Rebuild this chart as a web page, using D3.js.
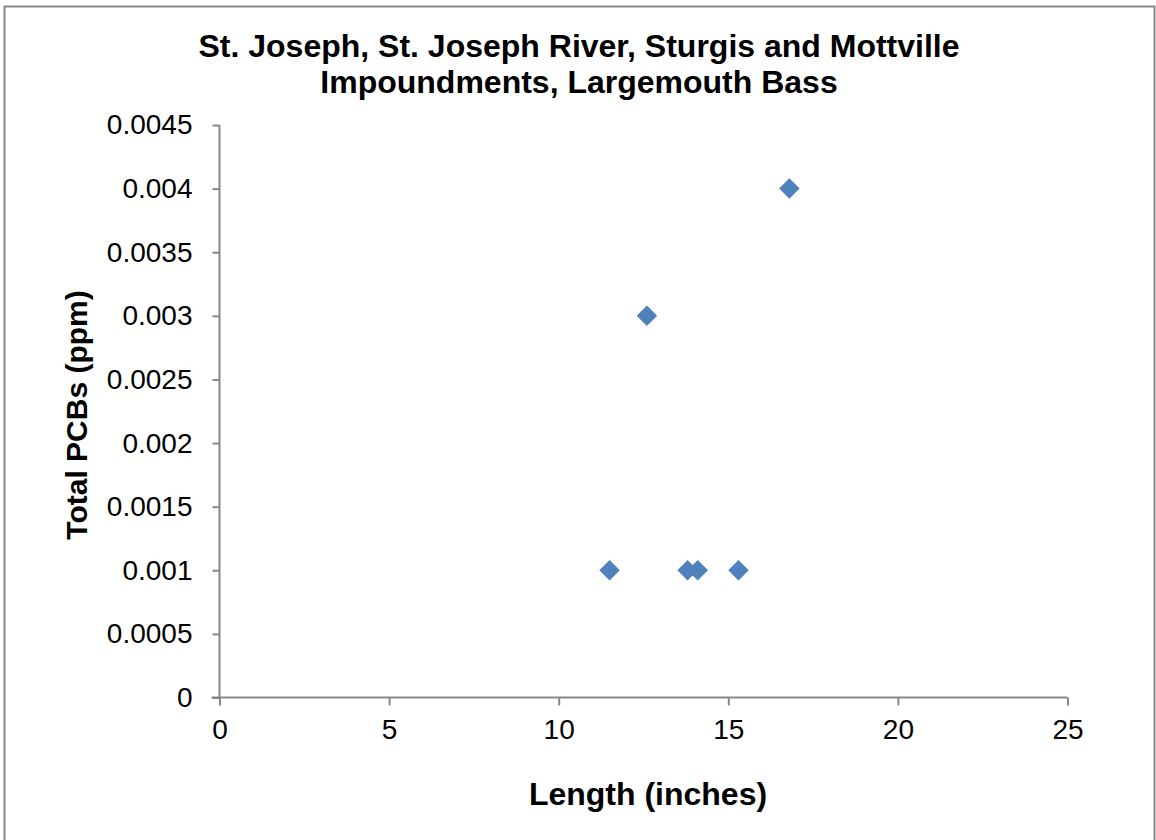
<!DOCTYPE html>
<html>
<head>
<meta charset="utf-8">
<script src="https://cdn.jsdelivr.net/npm/d3@7"></script>
<style>
  body { margin: 0; background: #fff; }
  text { font-family: "Liberation Sans", Arial, sans-serif; }
</style>
</head>
<body>
<svg id="chart" width="1156" height="840"></svg>
<script>
// data
var lengths = [11.5, 12.6, 13.8, 14.1, 15.3, 16.8]
var pcbs = [0.001, 0.003, 0.001, 0.001, 0.001, 0.004]
var xTicks = [0, 5, 10, 15, 20, 25]
var yTicks = [0, 0.0005, 0.001, 0.0015, 0.002, 0.0025, 0.003, 0.0035, 0.004, 0.0045]
var titleLines = ["St. Joseph, St. Joseph River, Sturgis and Mottville", "Impoundments, Largemouth Bass"]

var svg = d3.select("#chart")

// outer border
svg.append("rect")
    .attr("x", 4.5).attr("y", 6.5)
    .attr("width", 1150).attr("height", 840)
    .style("fill", "none")
    .style("stroke", "#888")
    .style("stroke-width", 2)

// plot area edges
var plotLeft = 219.5, plotRight = 1067.5, plotTop = 125, plotBottom = 697.5

var x = d3.scaleLinear().domain([0, 25]).range([plotLeft, plotRight])
var y = d3.scaleLinear().domain([0, 0.0045]).range([plotBottom, plotTop])

// x axis
var xAxis = svg.append("g")
    .attr("transform", "translate(0," + plotBottom + ")")
    .call(d3.axisBottom(x).tickValues(xTicks).tickSize(8).tickPadding(14).tickSizeOuter(0))
xAxis.select(".domain").attr("d", "M" + (plotLeft - 8) + ",0H" + plotRight)

// y axis
var yAxis = svg.append("g")
    .attr("transform", "translate(" + plotLeft + ",0)")
    .call(d3.axisLeft(y).tickValues(yTicks).tickSize(7).tickPadding(20).tickSizeOuter(0)
        .tickFormat(function(d){ return d === 0 ? "0" : String(+d.toFixed(4)) }))
yAxis.select(".domain").attr("d", "M0," + plotBottom + "V" + plotTop)

svg.selectAll(".domain, .tick line").style("stroke", "#888").style("stroke-width", 2)
svg.selectAll(".tick text")
    .style("font-size", "28px")
    .style("fill", "#000")
    .style("font-family", "'Liberation Sans', Arial, sans-serif")

// points
var diamond = d3.symbol().type(d3.symbolSquare).size(210)
svg.selectAll(".pt")
    .data(lengths)
    .enter()
    .append("path")
    .attr("class", "pt")
    .attr("d", diamond)
    .attr("transform", function(d, i){ return "translate(" + x(d) + "," + y(pcbs[i]) + ") rotate(45)" })
    .style("fill", "#4f81bd")

// title
svg.selectAll(".title")
    .data(titleLines)
    .enter()
    .append("text")
    .attr("class", "title")
    .attr("x", 579)
    .attr("y", function(d, i){ return 57 + i * 36 })
    .attr("text-anchor", "middle")
    .style("font-size", "32px")
    .style("font-weight", "bold")
    .text(function(d){ return d })

// axis titles
svg.append("text")
    .attr("x", 648).attr("y", 805)
    .attr("text-anchor", "middle")
    .style("font-size", "32px")
    .style("font-weight", "bold")
    .text("Length (inches)")

svg.append("text")
    .attr("transform", "translate(87,415) rotate(-90)")
    .attr("text-anchor", "middle")
    .style("font-size", "30px")
    .style("font-weight", "bold")
    .text("Total PCBs (ppm)")
</script>
</body>
</html>
